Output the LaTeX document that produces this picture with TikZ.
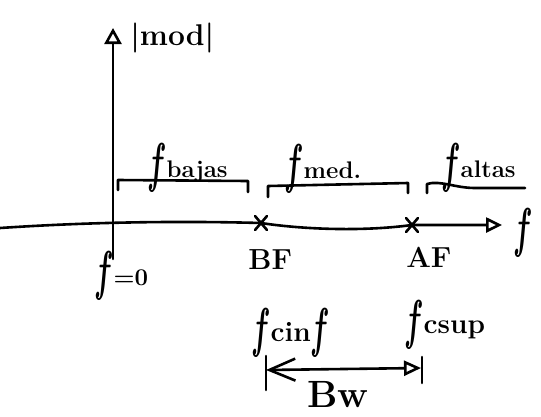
\documentclass[tikz,border=0pt]{standalone}
\usepackage{fontspec}
\usepackage{graphicx}
\usetikzlibrary{arrows.meta}
\newcommand{\hf}{\raisebox{-0.45ex}{\scalebox{1.15}[2.2]{\boldmath$f$}}}
\begin{document}
\begin{tikzpicture}[x=1pt,y=-1pt, line width=2.6pt, line cap=round, line join=round,
  lbl/.style={inner sep=0pt, anchor=base west, font=\fontsize{24}{28}\selectfont\bfseries},
  biglbl/.style={lbl, font=\fontsize{29}{32}\selectfont\bfseries},
  midlbl/.style={lbl, font=\fontsize{28}{32}\selectfont\bfseries}]
\useasboundingbox (0,0) rectangle (541,416);
% axes
\coordinate (ybot) at (113,259);
\coordinate (ytop) at (113,28);
\coordinate (xl) at (0,228);
\coordinate (xr) at (502,225);
\coordinate (bf) at (261,223);
\coordinate (af) at (412,225);
\draw[-{Triangle[open,length=16pt,width=17pt]}] (ybot) -- (ytop);
\draw[-{Triangle[open,length=16pt,width=15pt]}] (xl) .. controls (60,224) and (150,220) .. (bf)
   .. controls (300,229) and (360,232) .. (af) -- (xr);
% crosses
\draw ([shift={(-6,-7)}]bf) -- ([shift={(6,7)}]bf);
\draw ([shift={(6,-7)}]bf) -- ([shift={(-6,7)}]bf);
\draw ([shift={(-6,-7)}]af) -- ([shift={(6,7)}]af);
\draw ([shift={(6,-7)}]af) -- ([shift={(-6,7)}]af);
% brackets
\draw (118,190) -- (118,180) -- (248,181) -- (248,192);
\draw (268,197) -- (268,186) -- (408,183) -- (408,193);
\draw (427,193) -- (427,184) .. controls (440,180) and (455,188) .. (475,188) -- (525,188);
% labels
\node[lbl, font=\fontsize{30}{36}\selectfont\bfseries] (lmod) at (129,45) {|mod|};
\node[lbl] (lbajas) at (146,177) {\hf bajas};
\node[lbl] (lmed) at (283,178) {\hf med.};
\node[lbl] (laltas) at (440,177) {\hf altas};
\node[biglbl] (lbf) at (247,269) {BF};
\node[biglbl] (laf) at (405,267) {AF};
\node[lbl] (lf0) at (93,285) {\hf=0};
\node[lbl, anchor=center] (lfx) at (523,233) {\hf};
\node[midlbl] (lcinf) at (250,341) {\hf cin\hf};
\node[midlbl] (lcsup) at (403,333) {\hf csup};
% bandwidth
\coordinate (bwl) at (266,370);
\coordinate (bwr) at (421,368);
\coordinate (bwlt) at (266,356);
\coordinate (bwlb) at (266,390);
\coordinate (bwrt) at (422,357);
\coordinate (bwrb) at (422,383);
\draw (bwlt) -- (bwlb);
\draw (bwrt) -- (bwrb);
\draw[{Straight Barb[length=26pt,width=22pt]}-{Triangle[open,length=17pt,width=15pt]}] (bwl) -- (bwr);
\node[lbl, font=\fontsize{38}{42}\selectfont\bfseries] (lbw) at (306,407) {Bw};
\end{tikzpicture}
\end{document}
